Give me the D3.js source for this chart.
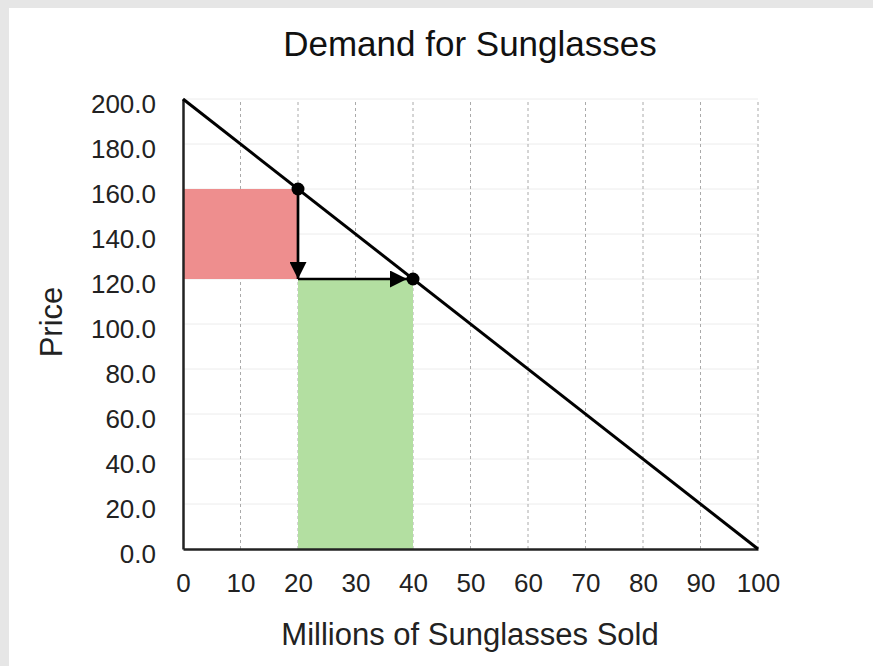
<!DOCTYPE html>
<html><head><meta charset="utf-8">
<script src="https://cdn.jsdelivr.net/npm/d3@7"></script>
<style>body{margin:0;background:#e6e6e6;} svg{display:block;}</style>
</head><body>
<svg id="c" width="873" height="666"></svg>
<script>
const xTicks = [0,10,20,30,40,50,60,70,80,90,100];
const yTicks = [0,20,40,60,80,100,120,140,160,180,200];
const demandQty = [0, 100];
const demandPrice = [200, 0];
const lossArea = {q0:0, q1:20, p0:120, p1:160};
const gainArea = {q0:20, q1:40, p0:0, p1:120};
const points = [{q:20,p:160},{q:40,p:120}];
const arrows = [{q0:20,p0:160,q1:20,p1:120},{q0:20,p0:120,q1:40,p1:120}];

const svg = d3.select("#c");
svg.append("rect").attr("x",9).attr("y",8).attr("width",864).attr("height",658).attr("fill","#fff");
const x = d3.scaleLinear().domain([0,100]).range([183,758]);
const y = d3.scaleLinear().domain([0,200]).range([549,99]);
const font = "Helvetica, Arial, 'Liberation Sans', sans-serif";

// horizontal grid
svg.append("g").selectAll("line").data(yTicks.slice(1)).join("line")
  .attr("x1",x(0)).attr("x2",x(100)).attr("y1",d=>y(d)).attr("y2",d=>y(d))
  .attr("stroke","#ececec").attr("stroke-width",1);
// vertical dashed grid
svg.append("g").selectAll("line").data(xTicks.slice(1)).join("line")
  .attr("x1",d=>x(d)).attr("x2",d=>x(d)).attr("y1",y(0)).attr("y2",y(200))
  .attr("stroke","#aaaaaa").attr("stroke-width",1).attr("stroke-dasharray","3,3");

// areas
svg.append("rect").attr("x",x(lossArea.q0)).attr("width",x(lossArea.q1)-x(lossArea.q0))
  .attr("y",y(lossArea.p1)).attr("height",y(lossArea.p0)-y(lossArea.p1)).attr("fill","#ee8e8e");
svg.append("rect").attr("x",x(gainArea.q0)).attr("width",x(gainArea.q1)-x(gainArea.q0))
  .attr("y",y(gainArea.p1)).attr("height",y(gainArea.p0)-y(gainArea.p1)).attr("fill","#b3dfa1");

// axes
const xAxis = d3.axisBottom(x).tickValues(xTicks).tickSize(0).tickPadding(0).tickFormat(d3.format("d"));
const gx = svg.append("g").attr("transform",`translate(0,${y(0)})`).call(xAxis);
gx.select(".domain").attr("stroke","#222").attr("stroke-width",2.5);
gx.selectAll("text").attr("font-family",font).attr("font-size",26).attr("fill","#222")
  .attr("dy",null).attr("y",43);
const yAxis = d3.axisLeft(y).tickValues(yTicks).tickSize(0).tickPadding(27).tickFormat(d3.format(".1f"));
const gy = svg.append("g").attr("transform",`translate(${x(0)},0)`).call(yAxis);
gy.select(".domain").attr("stroke","#222").attr("stroke-width",2.5);
gy.selectAll("text").attr("font-family",font).attr("font-size",26).attr("fill","#222")
  .attr("dy",null).attr("y",13);

// demand line
svg.append("line").attr("x1",x(demandQty[0])).attr("y1",y(demandPrice[0]))
  .attr("x2",x(demandQty[1])).attr("y2",y(demandPrice[1]))
  .attr("stroke","#000").attr("stroke-width",3);

// arrows
svg.append("defs").append("marker").attr("id","ah").attr("viewBox","0 0 10 10")
  .attr("refX",10).attr("refY",5).attr("markerWidth",17).attr("markerHeight",17)
  .attr("markerUnits","userSpaceOnUse").attr("orient","auto")
  .append("path").attr("d","M0,0 L10,5 L0,10 Z").attr("fill","#000");
svg.append("g").selectAll("line").data(arrows).join("line")
  .attr("x1",d=>x(d.q0)).attr("y1",d=>y(d.p0)).attr("x2",d=>x(d.q1)-(d.q1!==d.q0?6:0)).attr("y2",d=>y(d.p1))
  .attr("stroke","#000").attr("stroke-width",2.7).attr("marker-end","url(#ah)");

// points
svg.append("g").selectAll("circle").data(points).join("circle")
  .attr("cx",d=>x(d.q)).attr("cy",d=>y(d.p)).attr("r",6.5).attr("fill","#000");

// titles
svg.append("text").attr("x",470).attr("y",56).attr("text-anchor","middle")
  .attr("font-family",font).attr("font-size",35).attr("fill","#111").text("Demand for Sunglasses");
svg.append("text").attr("x",470).attr("y",645).attr("text-anchor","middle")
  .attr("font-family",font).attr("font-size",31).attr("fill","#222").text("Millions of Sunglasses Sold");
svg.append("text").attr("transform","translate(62,322) rotate(-90)").attr("text-anchor","middle")
  .attr("font-family",font).attr("font-size",31).attr("fill","#222").text("Price");
</script>
</body></html>
